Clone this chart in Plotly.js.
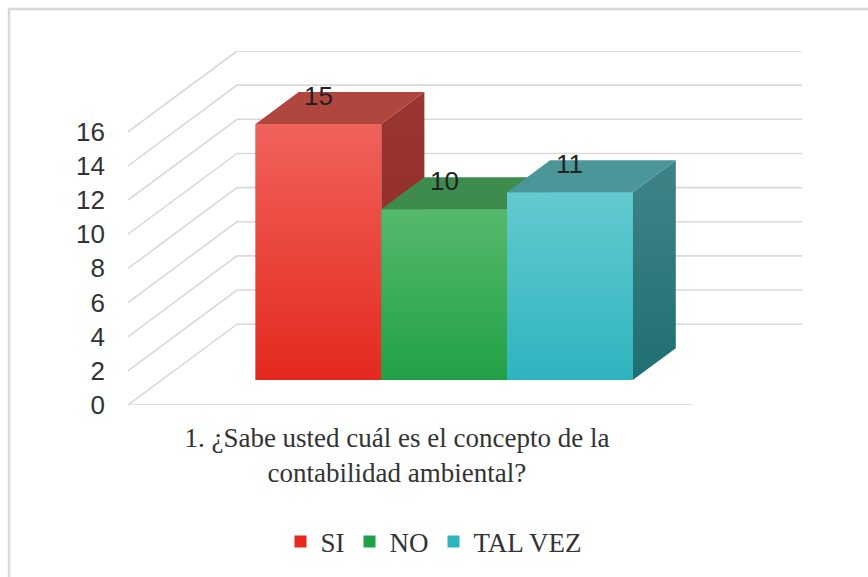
<!DOCTYPE html>
<html>
<head>
<meta charset="utf-8">
<script src="https://cdn.plot.ly/plotly-3.0.1.min.js"></script>
<style>html,body{margin:0;padding:0;background:#fff;}#chart{width:868px;height:577px;}</style>
</head>
<body>
<div id="chart"></div>
<script>
// ---- data ----
const categories = ['SI', 'NO', 'TAL VEZ'];
const values = [15, 10, 11];
const question = '1. ¿Sabe usted cuál es el concepto de la<br>contabilidad ambiental?';
const yTicks = [0, 2, 4, 6, 8, 10, 12, 14, 16];

// ---- styles ----
const SERIF = '"Liberation Serif", "Times New Roman", serif';
const SANS = '"Liberation Sans", Arial, sans-serif';
const frontTop = ['#F0625C', '#56B96B', '#63CAD0'];
const frontBottom = ['#E4291D', '#21A146', '#2EB4BF'];
const topColors = ['#B0473F', '#3E8B4E', '#4A9699'];
const sideTop = ['#9A3631', '#2F7D43', '#3F8487'];
const sideBottom = ['#8C2A24', '#246E37', '#1F6F73'];

// 3D projection parameters (axis units)
const DX = 109 / 565;          // depth shift along x
const DY = 81 / 17.125;        // depth shift along y (value units)
const BW = 0.2225;             // bar width
const DF = 0.309, DB = 0.704;  // front / back depth of bars
const P = (x, y, d) => [x + d * DX, y + d * DY];

const traces = [];

// gridlines (walls) on base subplot
const gx = [], gy = [];
yTicks.forEach(v => {
  const a = P(0, v, 0), b = P(0, v, 1), c = P(1, v, 1);
  gx.push(a[0], b[0], c[0], null);
  gy.push(a[1], b[1], c[1], null);
});
gx.push(0, 1, null); gy.push(0, 0, null);
traces.push({type: 'scatter', mode: 'lines', x: gx, y: gy, xaxis: 'x', yaxis: 'y',
  line: {color: '#D9D9D9', width: 1.6}, hoverinfo: 'skip', showlegend: false});

function poly(pts, xa, ya, fill) {
  const xs = pts.map(p => p[0]), ys = pts.map(p => p[1]);
  xs.push(xs[0]); ys.push(ys[0]);
  const t = {type: 'scatter', mode: 'lines', x: xs, y: ys, xaxis: xa, yaxis: ya,
    fill: 'toself', line: {width: 0, color: 'rgba(0,0,0,0)'}, hoverinfo: 'skip', showlegend: false};
  if (typeof fill === 'string') t.fillcolor = fill; else { t.fillcolor = fill.mid; t.fillgradient = fill.grad; }
  return t;
}

const annotations = [];
categories.forEach((name, i) => {
  const xa = 'x' + (i + 2), ya = 'y' + (i + 2);
  const v = values[i];
  const xc = 0.5 + (i - 1) * BW, xl = xc - BW / 2, xr = xc + BW / 2;
  // side face
  traces.push(poly([P(xr, 0, DF), P(xr, v, DF), P(xr, v, DB), P(xr, 0, DB)], xa, ya,
    {mid: sideTop[i], grad: {type: 'vertical', colorscale: [[0, sideBottom[i]], [1, sideTop[i]]]}}));
  // front face: bar
  traces.push({type: 'bar', name: name, x: [xc + DF * DX], y: [v], base: [DF * DY], width: [BW],
    xaxis: xa, yaxis: ya, marker: {color: frontBottom[i], line: {width: 0}}, hoverinfo: 'skip'});
  // gradient shading of the front face
  traces.push(poly([P(xl, 0, DF), P(xr, 0, DF), P(xr, v, DF), P(xl, v, DF)], xa, ya,
    {mid: frontBottom[i], grad: {type: 'vertical', colorscale: [[0, frontBottom[i]], [1, frontTop[i]]]}}));
  // top face
  traces.push(poly([P(xl, v, DF), P(xr, v, DF), P(xr, v, DB), P(xl, v, DB)], xa, ya, topColors[i]));
  // data label
  const lp = P(xc, v, DF);
  annotations.push({x: lp[0], y: lp[1], xref: xa, yref: ya, text: String(v), showarrow: false,
    yshift: 28, font: {family: SANS, size: 26, color: '#222222'}});
});

// frame border (paper coordinates from pixel positions)
const L = 128, T = 51, W = 674, H = 355;
const px = x => (x - L) / W, py = y => (T + H - y) / H;

const hidden = r => ({range: r, visible: false, fixedrange: true});
const xr = [0, 1 + DX], yr = [0, 16 + DY];

const layout = {
  width: 868, height: 577,
  margin: {l: L, r: 868 - L - W, t: T, b: 577 - T - H, pad: 0},
  paper_bgcolor: '#FFFFFF', plot_bgcolor: 'rgba(0,0,0,0)',
  barmode: 'overlay',
  showlegend: true,
  xaxis: {range: xr, showgrid: false, zeroline: false, showline: false, ticks: '',
    tickmode: 'array', tickvals: [0.476], ticktext: [question], ticklabelstandoff: 14,
    tickfont: {family: SERIF, size: 27, color: '#333333'}, fixedrange: true},
  yaxis: {range: yr, showgrid: false, zeroline: false, showline: false, ticks: '',
    tickmode: 'array', tickvals: yTicks, ticklabelstandoff: 22,
    tickfont: {family: SANS, size: 26, color: '#333333'}, fixedrange: true},
  legend: {orientation: 'h', x: px(434), xanchor: 'center', y: py(542), yanchor: 'middle',
    font: {family: SERIF, size: 27, color: '#333333'},
    bgcolor: 'rgba(0,0,0,0)', traceorder: 'normal'},
  annotations: annotations,
  shapes: [{type: 'path', xref: 'paper', yref: 'paper',
    path: `M ${px(9)} ${py(600)} L ${px(9)} ${py(9)} L ${px(900)} ${py(9)}`,
    line: {color: '#D9D9D9', width: 2.5}}]
};
[2, 3, 4].forEach(k => {
  layout['xaxis' + k] = Object.assign(hidden(xr), {overlaying: 'x'});
  layout['yaxis' + k] = Object.assign(hidden(yr), {overlaying: 'y'});
});

Plotly.newPlot('chart', traces, layout, {displayModeBar: false, staticPlot: true});
</script>
</body>
</html>
